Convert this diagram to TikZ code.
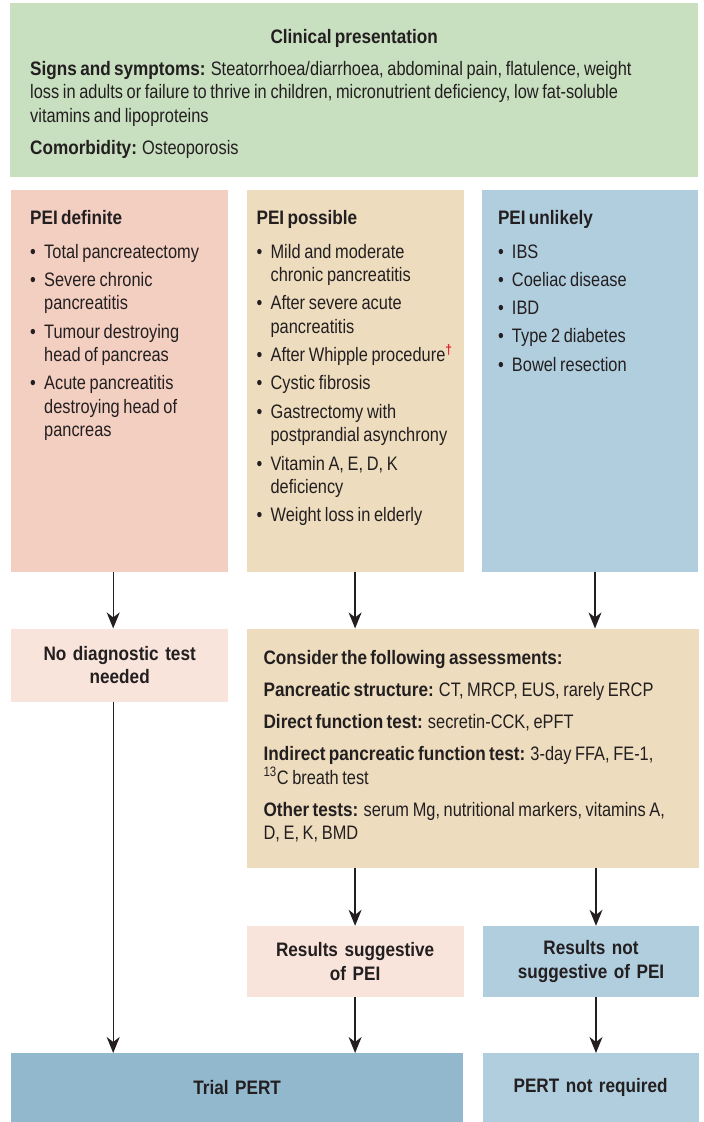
\documentclass[tikz,border=0pt]{standalone}
\usepackage{fontspec}
\setmainfont{Liberation Sans}[FakeStretch=0.84,WordSpace=0.8,BoldFeatures={FakeStretch=0.88,WordSpace=0.7}]
\usetikzlibrary{arrows.meta,positioning}

\definecolor{ink}{HTML}{231F20}
\definecolor{clingreen}{HTML}{C8DFC0}
\definecolor{defsalmon}{HTML}{F3CFC1}
\definecolor{posstan}{HTML}{EDDCBE}
\definecolor{unlblue}{HTML}{B1CEDF}
\definecolor{palesalmon}{HTML}{F8E4DA}
\definecolor{trialblue}{HTML}{91B8CD}
\definecolor{dagred}{HTML}{E0202A}

\newcommand{\itm}{\par\hangindent=14pt\hangafter=1\noindent\makebox[14pt][l]{\textbullet}}
\newcommand{\panelbody}[4]{\parbox[t][#1][t]{#2}{\raggedright\setlength{\parskip}{#3}#4}}

\begin{document}
\begin{tikzpicture}[x=1pt,y=1pt,>={Stealth[length=16pt,width=13pt,inset=5pt]},
  every node/.style={inner sep=0pt,text=ink,font=\fontsize{19.5}{23.5}\selectfont},
  panel/.style={anchor=north west,inner xsep=#1},
  result/.style={align=center,font=\fontsize{19.5}{23.5}\selectfont\bfseries},
  flow/.style={color=ink,line width=1.3pt}]

\useasboundingbox (0,0) rectangle (704,-1122);

% clinical presentation
\node[panel=20pt,fill=clingreen] (clin) at (10,-3) {\panelbody{174pt}{648pt}{8.5pt}{%
  {\centering\rule{0pt}{40pt}\textbf{Clinical presentation}\par}
  \textbf{Signs and symptoms:} Steatorrhoea/diarrhoea, abdominal pain, flatulence, weight\newline
  loss in adults or failure to thrive in children, micronutrient deficiency, low fat-soluble\newline
  vitamins and lipoproteins\par
  \textbf{Comorbidity:} Osteoporosis}};

% three columns
\node[panel=19pt,fill=defsalmon] (pdef) at (11,-190) {\panelbody{382pt}{179pt}{4.8pt}{%
  \rule{0pt}{34pt}\textbf{PEI definite}\par\vspace{5.5pt}
  \itm Total pancreatectomy
  \itm Severe chronic\newline pancreatitis
  \itm Tumour destroying\newline head of pancreas
  \itm Acute pancreatitis\newline destroying head of\newline pancreas}};

\node[panel=10pt,fill=posstan,right=18pt of pdef] (ppos) {\panelbody{382pt}{197pt}{4.8pt}{%
  \rule{0pt}{34pt}\textbf{PEI possible}\par\vspace{5.5pt}
  \itm Mild and moderate\newline chronic pancreatitis
  \itm After severe acute\newline pancreatitis
  \itm After Whipple procedure\textsuperscript{\textcolor{dagred}{\textbf{\textdagger}}}
  \itm Cystic fibrosis
  \itm Gastrectomy with\newline postprandial asynchrony
  \itm Vitamin A, E, D, K\newline deficiency
  \itm Weight loss in elderly}};

\node[panel=16pt,fill=unlblue,right=18pt of ppos] (punl) {\panelbody{382pt}{184pt}{4.8pt}{%
  \rule{0pt}{34pt}\textbf{PEI unlikely}\par\vspace{5.5pt}
  \itm IBS
  \itm Coeliac disease
  \itm IBD
  \itm Type 2 diabetes
  \itm Bowel resection}};

% second row
\node[result,fill=palesalmon,text width=217pt,minimum height=73pt,below=56pt of pdef] (nodiag)
  {No diagnostic test\\needed};

\node[panel=17pt,fill=posstan,below=56pt of ppos.south west,anchor=north west] (assess)
  {\panelbody{239pt}{418pt}{8.5pt}{%
  \rule{0pt}{36pt}\textbf{Consider the following assessments:}\par
  \textbf{Pancreatic structure:} CT, MRCP, EUS, rarely ERCP\par
  \textbf{Direct function test:} secretin-CCK, ePFT\par
  \textbf{Indirect pancreatic function test:} 3-day FFA, FE-1,\newline
  \textsuperscript{13}C breath test\par
  \textbf{Other tests:} serum Mg, nutritional markers, vitamins A,\newline
  D, E, K, BMD}};

% results
\node[result,fill=palesalmon,text width=217pt,minimum height=71pt,below=58pt of assess.south west,anchor=north west] (ressug)
  {Results suggestive\\of PEI};
\node[result,fill=unlblue,text width=216pt,minimum height=71pt,right=19pt of ressug] (resnot)
  {Results not\\suggestive of PEI};

% outcomes
\node[result,fill=trialblue,text width=452pt,minimum height=69pt,anchor=north west] (trial) at (11,-1053)
  {Trial PERT};
\node[result,fill=unlblue,text width=216pt,minimum height=69pt,right=19pt of trial] (pertno)
  {PERT not required};

\path[->,flow] ([xshift=-6.5pt]pdef.south) edge ([xshift=-6.5pt]pdef.south |- nodiag.north)
  (ppos.south) edge (ppos.south |- assess.north)
  ([xshift=5pt]punl.south) edge ([xshift=5pt]punl.south |- assess.north)
  ([xshift=-6.5pt]nodiag.south) edge ([xshift=-6.5pt]nodiag.south |- trial.north)
  (ressug.north |- assess.south) edge (ressug.north)
  ([xshift=5pt]resnot.north |- assess.south) edge ([xshift=5pt]resnot.north)
  (ressug.south) edge (ressug.south |- trial.north)
  ([xshift=5pt]resnot.south) edge ([xshift=5pt]resnot.south |- pertno.north);

\end{tikzpicture}
\end{document}
